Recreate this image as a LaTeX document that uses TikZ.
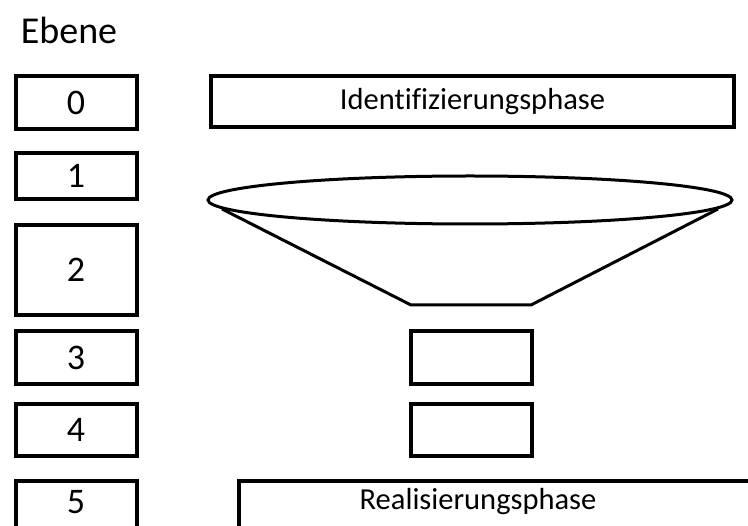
\documentclass[tikz,border=0pt]{standalone}
\usepackage{fontspec}
\setmainfont{Carlito}[Ligatures=NoCommon]
\usetikzlibrary{positioning}

\begin{document}
\begin{tikzpicture}[x=1pt,y=-1pt,
  lvl/.style={draw, line width=4pt, minimum width=121pt, inner sep=0pt, font=\fontsize{36}{36}\selectfont},
  phase/.style={draw, line width=4pt, inner sep=0pt, font=\fontsize{30.5}{30.5}\selectfont},
  txt/.style={inner sep=0pt, font=\fontsize{30.5}{30.5}\selectfont}]
\clip (0,0) rectangle (748,526);
\node (ebene) [inner sep=0pt, font=\fontsize{38}{38}\selectfont] at (69,30) {Ebene};
% Ebenen links
\node (lvl0) [lvl, minimum height=53pt] at (76,102.5) {0};
\node (lvl1) [lvl, minimum height=46pt] at (76,176) {1};
\node (lvl2) [lvl, minimum height=90pt] at (76,270) {2};
\node (lvl3) [lvl, minimum height=53pt] at (76,357.5) {3};
\node (lvl4) [lvl, minimum height=52pt] at (76,430) {4};
\node (lvl5) [lvl, minimum height=100pt, anchor=north] at (76,479) {};
\node (lvl5txt) [inner sep=0pt, font=\fontsize{36}{36}\selectfont] at (76,502) {5};
% Phasen
\node (ident) [phase, minimum width=523pt, minimum height=51pt] at (472.5,101.5) {Identifizierungsphase};
\draw [line width=3pt] (470,200) ellipse [x radius=262pt, y radius=24pt];
\draw [line width=3pt, line join=round] (222,209) -- (411,305) -- (531,305) -- (718,209);
\node (box3) [draw, line width=4pt, minimum width=121pt, minimum height=53pt] at (471.5,357.5) {};
\node (box4) [draw, line width=4pt, minimum width=121pt, minimum height=52pt] at (471.5,430) {};
\node (real) [phase, minimum width=545pt, minimum height=100pt, anchor=north west] at (237,479) {};
\node (realtxt) [txt] at (478,502) {Realisierungsphase};
\end{tikzpicture}
\end{document}
